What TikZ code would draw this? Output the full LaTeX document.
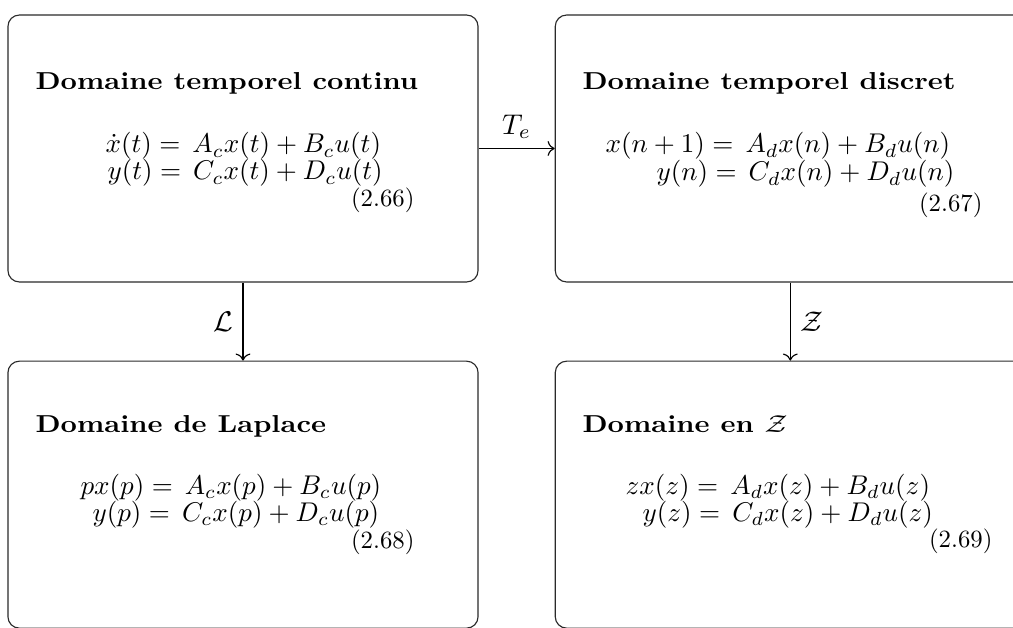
\documentclass[tikz,border=0pt]{standalone}
\usepackage{amsmath}
\usepackage{graphicx}
\usetikzlibrary{positioning,arrows.meta}
\definecolor{frameGrey}{HTML}{2a2a2a}
\newcommand{\flatten}[1]{\scalebox{1}[0.86]{#1}}
\newcommand{\eqsize}[1]{\scalebox{0.95}{#1}}
\newcommand{\numsize}[1]{\scalebox{0.87}{#1}}

\begin{document}
\begin{tikzpicture}[x=0.351pt,y=-0.351pt,
  panel/.style={draw=frameGrey,line width=0.4pt,rounded corners=4pt,
    minimum width=165pt,minimum height=93.7pt,inner sep=0pt},
  title/.style={anchor=base west,inner sep=0pt,font=\bfseries},
  eqline/.style={anchor=base west,inner sep=0pt},
  eqnum/.style={anchor=base east,inner sep=0pt},
  link/.style={->,line width=0.4pt},
  node distance=27.4pt and 26.7pt]
\path[use as bounding box,clip] (0,0) rectangle (1013,628);

\node[panel] (cont) at (243,148.5) {};
\node[panel,right=of cont] (disc) {};
\node[panel,below=of cont] (lapl) {};
\node[panel,below=of disc] (zdom) {};

\node[title] (contT) at (35,90) {\flatten{Domaine temporel continu}};
\node[eqline] (contA) at (105,153) {\eqsize{$\dot{x}(t) =\, A_cx(t) + B_cu(t)$}};
\node[eqline] (contB) at (107,180) {\eqsize{$y(t) =\, C_cx(t) + D_cu(t)$}};
\node[eqnum] (contN) at (415,207) {\numsize{(2.66)}};

\node[title] (discT) at (582,90) {\flatten{Domaine temporel discret}};
\node[eqline] (discA) at (605,153) {\eqsize{$x(n+1) =\, A_dx(n) + B_du(n)$}};
\node[eqline] (discB) at (656,181) {\eqsize{$y(n) =\, C_dx(n) + D_du(n)$}};
\node[eqnum] (discN) at (983,212) {\numsize{(2.67)}};

\node[title] (laplT) at (35,432) {\flatten{Domaine de Laplace}};
\node[eqline] (laplA) at (80,494) {\eqsize{$px(p) =\, A_cx(p) + B_cu(p)$}};
\node[eqline] (laplB) at (92,521) {\eqsize{$y(p) =\, C_cx(p) + D_cu(p)$}};
\node[eqnum] (laplN) at (415,548) {\numsize{(2.68)}};

\node[title] (zdomT) at (582,432) {\flatten{Domaine en $\mathcal{Z}$}};
\node[eqline] (zdomA) at (625,494) {\eqsize{$zx(z) =\, A_dx(z) + B_du(z)$}};
\node[eqline] (zdomB) at (642,521) {\eqsize{$y(z) =\, C_dx(z) + D_du(z)$}};
\node[eqnum] (zdomN) at (993,547) {\numsize{(2.69)}};

\draw[link] (cont) -- node[above] (teLab) {$T_e$} (disc);
\draw[link] (cont) -- node[left] (lLab) {$\mathcal{L}$} (lapl);
\draw[link] (disc) -- node[right] (zLab) {$\mathcal{Z}$} (zdom);
\end{tikzpicture}
\end{document}
